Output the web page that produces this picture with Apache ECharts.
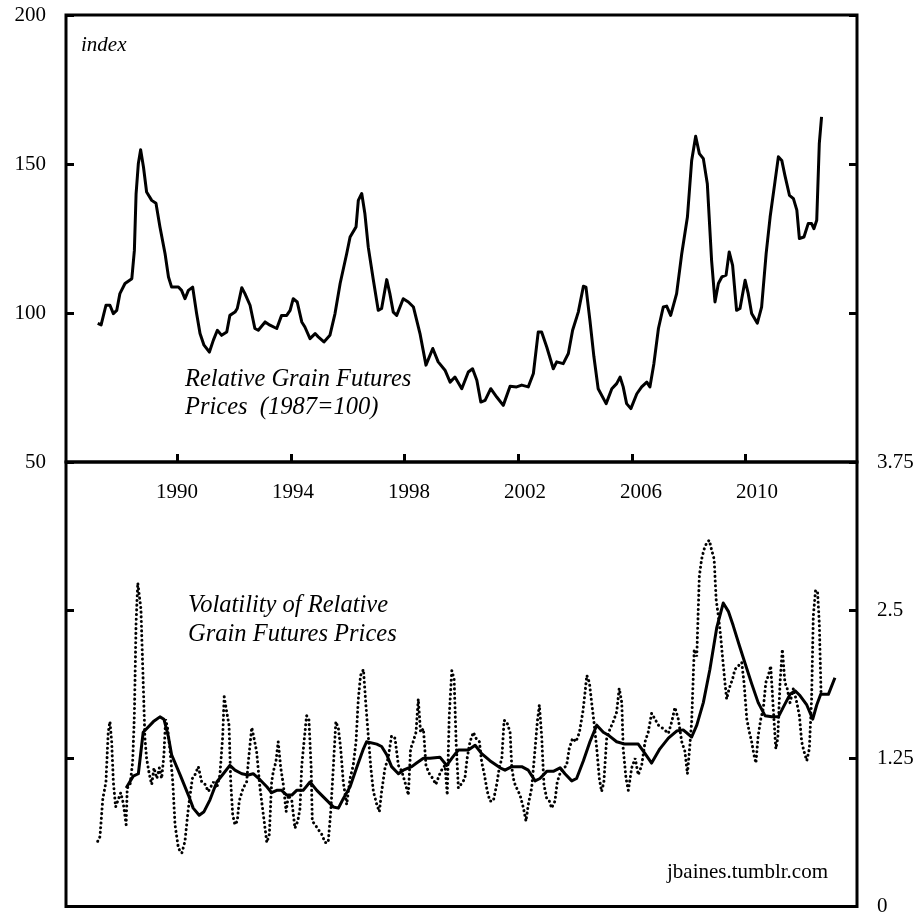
<!DOCTYPE html>
<html>
<head>
<meta charset="utf-8">
<script src="https://cdn.jsdelivr.net/npm/echarts@6/dist/echarts.min.js"></script>
<style>
  html, body { margin: 0; padding: 0; background: #fff; }
  #chart { width: 919px; height: 917px; }
</style>
</head>
<body>
<div id="chart"></div>
<script>
// relative grain futures prices, index 1987=100
const priceYears = [
  1987.20, 1987.32, 1987.49, 1987.63, 1987.75, 1987.87, 1987.98, 1988.16, 1988.40, 1988.49,
  1988.55, 1988.63, 1988.71, 1988.81, 1988.92, 1989.10, 1989.25, 1989.39, 1989.57, 1989.69,
  1989.80, 1990.04, 1990.15, 1990.27, 1990.39, 1990.54, 1990.68, 1990.80, 1990.94, 1991.13,
  1991.27, 1991.41, 1991.56, 1991.74, 1991.85, 1992.03, 1992.11, 1992.27, 1992.38, 1992.56,
  1992.73, 1992.85, 1993.09, 1993.26, 1993.50, 1993.67, 1993.85, 1993.97, 1994.08, 1994.22,
  1994.38, 1994.49, 1994.67, 1994.85, 1994.96, 1995.16, 1995.37, 1995.55, 1995.73, 1995.96,
  1996.08, 1996.29, 1996.37, 1996.49, 1996.60, 1996.72, 1996.90, 1997.07, 1997.19, 1997.37,
  1997.48, 1997.60, 1997.72, 1997.95, 1998.13, 1998.31, 1998.54, 1998.75, 1998.99, 1999.18,
  1999.42, 1999.60, 1999.77, 2000.01, 2000.24, 2000.39, 2000.54, 2000.68, 2000.83, 2001.03,
  2001.24, 2001.47, 2001.71, 2001.94, 2002.12, 2002.35, 2002.53, 2002.70, 2002.82, 2003.00,
  2003.23, 2003.35, 2003.58, 2003.76, 2003.91, 2004.11, 2004.29, 2004.38, 2004.52, 2004.66,
  2004.81, 2005.09, 2005.29, 2005.46, 2005.58, 2005.69, 2005.81, 2005.96, 2006.17, 2006.34,
  2006.52, 2006.63, 2006.77, 2006.93, 2007.10, 2007.22, 2007.36, 2007.57, 2007.75, 2007.95,
  2008.10, 2008.24, 2008.37, 2008.51, 2008.65, 2008.80, 2008.92, 2009.04, 2009.16, 2009.31,
  2009.42, 2009.54, 2009.68, 2009.80, 2009.98, 2010.09, 2010.21, 2010.41, 2010.56, 2010.72,
  2010.86, 2011.03, 2011.15, 2011.27, 2011.38, 2011.54, 2011.68, 2011.80, 2011.89, 2012.05,
  2012.20, 2012.32, 2012.40, 2012.50, 2012.59, 2012.67
];
const priceValues = [
  96.5, 96, 102.6, 102.6, 99.8, 100.9, 106.5, 109.9, 111.5, 121,
  140, 150.2, 154.8, 149, 140.6, 137.8, 136.8, 128.9, 119.9, 112.1,
  108.7, 108.7, 107.6, 104.8, 107.6, 108.7, 99.8, 93.1, 89.2, 86.9,
  90.9, 94.2, 92.5, 93.6, 99.2, 100.3, 101.5, 108.5, 106.5, 102.6,
  94.8, 94.2, 97, 95.9, 94.8, 99.2, 99.2, 100.9, 104.8, 103.7,
  97, 95.3, 91.4, 93.1, 92, 90.3, 92.5, 99.8, 109.9, 119.9,
  125.5, 128.9, 137.8, 140.1, 133.4, 122.1, 111, 100.9, 101.5, 111.2,
  106.5, 100.3, 99.2, 104.8, 103.7, 102, 93.1, 82.5, 88.1, 83.6,
  80.8, 76.8, 78.5, 74.6, 80.2, 81.3, 77.4, 70.1, 70.7, 74.6,
  71.8, 69, 75.4, 75.2, 75.8, 75.2, 79.7, 93.6, 93.6, 88.6,
  81.3, 83.6, 83, 86.4, 94.2, 100.3, 109, 108.7, 97.5, 85.3,
  74.6, 69.6, 74.6, 76.3, 78.5, 75.2, 69.6, 67.9, 72.9, 75.2,
  76.8, 75.2, 83, 94.8, 102, 102.3, 99.2, 106.5, 119.9, 132.2,
  151.2, 159.3, 153.5, 151.8, 143.4, 117.7, 103.7, 109.9, 112.1, 112.7,
  120.5, 116, 100.9, 101.5, 111, 106.5, 99.8, 96.6, 102, 119.9,
  132.2, 144, 152.4, 151.2, 146.2, 139.5, 138.4, 134.5, 125, 125.5,
  130, 130, 128.3, 131.1, 156.8, 165.8
];

// volatility of relative prices (dotted)
const volYears = [
  1987.20, 1987.28, 1987.38, 1987.49, 1987.57, 1987.63, 1987.69, 1987.75, 1987.83, 1987.92,
  1988.01, 1988.10, 1988.20, 1988.24, 1988.34, 1988.43, 1988.49, 1988.55, 1988.61, 1988.66,
  1988.72, 1988.80, 1988.86, 1988.92, 1989.02, 1989.10, 1989.18, 1989.28, 1989.37, 1989.45,
  1989.53, 1989.59, 1989.66, 1989.74, 1989.84, 1989.92, 1990.04, 1990.16, 1990.27, 1990.39,
  1990.53, 1990.62, 1990.74, 1990.86, 1990.98, 1991.09, 1991.27, 1991.39, 1991.50, 1991.60,
  1991.65, 1991.74, 1991.82, 1991.88, 1991.95, 1992.03, 1992.11, 1992.18, 1992.32, 1992.44,
  1992.50, 1992.62, 1992.70, 1992.79, 1992.91, 1993.03, 1993.15, 1993.24, 1993.32, 1993.38,
  1993.47, 1993.55, 1993.64, 1993.73, 1993.83, 1993.91, 1994.03, 1994.14, 1994.24, 1994.32,
  1994.38, 1994.46, 1994.55, 1994.63, 1994.71, 1994.75, 1994.85, 1994.96, 1995.08, 1995.20,
  1995.31, 1995.40, 1995.49, 1995.58, 1995.67, 1995.75, 1995.84, 1995.96, 1996.08, 1996.19,
  1996.29, 1996.37, 1996.45, 1996.55, 1996.63, 1996.71, 1996.81, 1996.90, 1997.02, 1997.11,
  1997.19, 1997.31, 1997.42, 1997.54, 1997.66, 1997.78, 1997.90, 1998.01, 1998.13, 1998.21,
  1998.30, 1998.40, 1998.48, 1998.56, 1998.66, 1998.75, 1998.87, 1998.99, 1999.10, 1999.22,
  1999.34, 1999.42, 1999.50, 1999.57, 1999.66, 1999.74, 1999.81, 1999.89, 2000.04, 2000.12,
  2000.20, 2000.30, 2000.42, 2000.51, 2000.63, 2000.71, 2000.80, 2000.91, 2001.00, 2001.12,
  2001.24, 2001.33, 2001.42, 2001.50, 2001.59, 2001.71, 2001.77, 2001.85, 2001.94, 2002.06,
  2002.18, 2002.27, 2002.35, 2002.47, 2002.59, 2002.67, 2002.74, 2002.82, 2002.90, 2003.00,
  2003.09, 2003.17, 2003.29, 2003.37, 2003.49, 2003.61, 2003.70, 2003.79, 2003.91, 2004.03,
  2004.15, 2004.27, 2004.35, 2004.41, 2004.50, 2004.58, 2004.66, 2004.76, 2004.85, 2004.93,
  2005.01, 2005.11, 2005.23, 2005.34, 2005.46, 2005.55, 2005.64, 2005.69, 2005.79, 2005.87,
  2005.99, 2006.11, 2006.22, 2006.34, 2006.46, 2006.57, 2006.69, 2006.81, 2006.93, 2007.10,
  2007.28, 2007.40, 2007.51, 2007.63, 2007.75, 2007.86, 2007.95, 2008.02, 2008.10, 2008.19,
  2008.28, 2008.37, 2008.45, 2008.53, 2008.63, 2008.72, 2008.80, 2008.89, 2008.96, 2009.04,
  2009.12, 2009.19, 2009.27, 2009.33, 2009.42, 2009.54, 2009.62, 2009.74, 2009.86, 2009.94,
  2010.04, 2010.13, 2010.21, 2010.29, 2010.36, 2010.44, 2010.53, 2010.62, 2010.71, 2010.80,
  2010.88, 2010.97, 2011.06, 2011.13, 2011.21, 2011.29, 2011.38, 2011.46, 2011.56, 2011.68,
  2011.80, 2011.89, 2011.97, 2012.05, 2012.15, 2012.24, 2012.32, 2012.38, 2012.46, 2012.53,
  2012.59, 2012.65
];
const volValues = [
  0.55, 0.59, 0.91, 1.05, 1.47, 1.56, 1.39, 1.05, 0.84, 0.90,
  0.96, 0.87, 0.69, 1.00, 1.03, 1.22, 1.61, 2.39, 2.73, 2.74,
  2.51, 1.89, 1.42, 1.25, 1.11, 1.03, 1.17, 1.08, 1.17, 1.08,
  1.28, 1.58, 1.50, 1.33, 1.05, 0.69, 0.49, 0.45, 0.55, 0.83,
  1.08, 1.11, 1.18, 1.05, 1.03, 0.97, 1.05, 1.00, 1.11, 1.44,
  1.77, 1.64, 1.53, 1.05, 0.77, 0.69, 0.72, 0.89, 1.00, 1.05,
  1.22, 1.51, 1.42, 1.31, 1.00, 0.77, 0.54, 0.61, 1.05, 1.14,
  1.22, 1.39, 1.17, 1.03, 0.80, 0.94, 0.89, 0.66, 0.72, 0.83,
  1.19, 1.39, 1.61, 1.58, 1.17, 0.72, 0.69, 0.65, 0.61, 0.54,
  0.54, 0.80, 1.17, 1.56, 1.50, 1.33, 1.05, 0.86, 1.08, 1.19,
  1.39, 1.75, 1.95, 2.00, 1.72, 1.47, 1.17, 0.97, 0.86, 0.80,
  0.97, 1.17, 1.25, 1.44, 1.42, 1.19, 1.14, 1.05, 0.94, 1.33,
  1.39, 1.47, 1.75, 1.47, 1.50, 1.19, 1.12, 1.08, 1.03, 1.11,
  1.17, 1.19, 0.94, 1.61, 1.99, 1.92, 1.39, 1.00, 1.05, 1.08,
  1.25, 1.39, 1.47, 1.42, 1.39, 1.22, 1.12, 0.97, 0.89, 0.89,
  1.03, 1.17, 1.25, 1.57, 1.56, 1.47, 1.17, 1.05, 1.00, 0.94,
  0.83, 0.72, 0.86, 1.00, 1.33, 1.56, 1.70, 1.44, 1.03, 0.91,
  0.89, 0.83, 0.89, 1.05, 1.14, 1.17, 1.19, 1.33, 1.42, 1.39,
  1.47, 1.64, 1.81, 1.95, 1.89, 1.72, 1.56, 1.33, 1.08, 0.97,
  1.05, 1.42, 1.50, 1.56, 1.64, 1.84, 1.72, 1.33, 1.08, 0.98,
  1.17, 1.25, 1.11, 1.19, 1.39, 1.47, 1.63, 1.58, 1.53, 1.50,
  1.46, 1.56, 1.68, 1.58, 1.39, 1.31, 1.12, 1.31, 1.56, 2.17,
  2.11, 2.79, 2.93, 3.01, 3.07, 3.09, 3.01, 2.93, 2.59, 2.45,
  2.28, 2.09, 1.89, 1.75, 1.84, 1.92, 2.00, 2.03, 2.06, 1.89,
  1.58, 1.47, 1.39, 1.28, 1.21, 1.44, 1.58, 1.67, 1.89, 1.95,
  2.03, 1.67, 1.33, 1.42, 1.89, 2.17, 1.89, 1.84, 1.72, 1.84,
  1.72, 1.61, 1.39, 1.31, 1.23, 1.33, 1.75, 2.45, 2.67, 2.65,
  2.39, 1.81
];

// smoothed volatility (solid)
const avgYears = [
  1988.20, 1988.45, 1988.63, 1988.80, 1988.92, 1989.16, 1989.39, 1989.53, 1989.68, 1989.80,
  1990.10, 1990.39, 1990.56, 1990.77, 1990.94, 1991.15, 1991.39, 1991.62, 1991.85, 1992.03,
  1992.27, 1992.50, 1992.67, 1992.91, 1993.15, 1993.32, 1993.50, 1993.67, 1993.85, 1994.03,
  1994.20, 1994.43, 1994.67, 1994.91, 1995.20, 1995.49, 1995.67, 1995.84, 1996.08, 1996.31,
  1996.55, 1996.66, 1997.02, 1997.19, 1997.37, 1997.54, 1997.78, 1997.95, 1998.25, 1998.42,
  1998.66, 1998.89, 1999.24, 1999.48, 1999.69, 1999.89, 2000.24, 2000.48, 2000.71, 2001.00,
  2001.36, 2001.53, 2001.77, 2002.12, 2002.35, 2002.59, 2002.76, 2003.00, 2003.23, 2003.47,
  2003.64, 2003.88, 2004.05, 2004.29, 2004.52, 2004.76, 2004.99, 2005.20, 2005.46, 2005.75,
  2005.99, 2006.22, 2006.46, 2006.69, 2006.98, 2007.28, 2007.57, 2007.80, 2008.10, 2008.28,
  2008.51, 2008.74, 2008.98, 2009.21, 2009.39, 2009.56, 2009.78, 2009.98, 2010.21, 2010.44,
  2010.68, 2010.92, 2011.15, 2011.32, 2011.56, 2011.74, 2011.91, 2012.15, 2012.36, 2012.50,
  2012.64, 2012.91, 2013.14
];
const avgValues = [
  1.00, 1.10, 1.12, 1.47, 1.50, 1.56, 1.60, 1.58, 1.44, 1.28,
  1.11, 0.94, 0.83, 0.77, 0.80, 0.90, 1.05, 1.12, 1.19, 1.15,
  1.12, 1.11, 1.12, 1.07, 1.01, 0.96, 0.98, 0.98, 0.94, 0.94,
  0.98, 0.98, 1.05, 0.98, 0.91, 0.84, 0.83, 0.91, 1.01, 1.17,
  1.33, 1.39, 1.37, 1.35, 1.28, 1.18, 1.12, 1.15, 1.18, 1.21,
  1.25, 1.25, 1.26, 1.19, 1.26, 1.32, 1.32, 1.36, 1.29, 1.23,
  1.17, 1.15, 1.18, 1.18, 1.15, 1.06, 1.08, 1.14, 1.14, 1.17,
  1.12, 1.06, 1.08, 1.23, 1.39, 1.53, 1.47, 1.44, 1.39, 1.37,
  1.37, 1.37, 1.29, 1.21, 1.33, 1.42, 1.48, 1.49, 1.43, 1.53,
  1.72, 2.00, 2.35, 2.56, 2.49, 2.37, 2.20, 2.05, 1.88, 1.72,
  1.61, 1.60, 1.60, 1.68, 1.79, 1.82, 1.78, 1.70, 1.58, 1.70,
  1.79, 1.79, 1.93
];

const yearTicks = [1990, 1994, 1998, 2002, 2006, 2010];

// x range of the plot box (tick scale) and of the year labels, which sit a bit to the right
const X_MIN = 1986.084, X_MAX = 2013.917;
const LABEL_MIN = 1986.172, LABEL_MAX = 2013.448;

const FONT = '"Liberation Serif", "Times New Roman", serif';
const zip = (xs, ys) => xs.map((x, i) => [x, ys[i]]);

const chart = echarts.init(document.getElementById('chart'));

const boxGrid = { left: 66, right: 62, show: true, borderColor: '#000', borderWidth: 3, containLabel: false };
const tick = { show: true, inside: true, length: 8, lineStyle: { color: '#000', width: 3 } };

chart.setOption({
  animation: false,
  backgroundColor: '#fff',
  textStyle: { fontFamily: FONT, color: '#000' },
  grid: [
    Object.assign({ top: 15, height: 447 }, boxGrid),
    Object.assign({ top: 462, height: 447 }, boxGrid),
  ],
  xAxis: [
    {
      type: 'value', gridIndex: 0, min: X_MIN, max: X_MAX, position: 'bottom',
      axisLine: { show: false }, splitLine: { show: false },
      axisTick: Object.assign({ customValues: yearTicks }, tick),
      axisLabel: { show: false },
    },
    {
      type: 'value', gridIndex: 1, min: X_MIN, max: X_MAX, show: false,
    },
    {
      type: 'value', gridIndex: 1, min: LABEL_MIN, max: LABEL_MAX, position: 'top',
      axisLine: { show: false }, splitLine: { show: false }, axisTick: { show: false },
      axisLabel: {
        inside: true, customValues: yearTicks, margin: 20,
        formatter: v => String(v),
        fontFamily: FONT, fontSize: 21, color: '#000',
      },
    },
  ],
  yAxis: [
    {
      type: 'value', gridIndex: 0, min: 50, max: 200, interval: 50, position: 'left',
      axisLine: { show: false }, splitLine: { show: false }, axisTick: tick,
      axisLabel: { margin: 20, fontFamily: FONT, fontSize: 21, color: '#000' },
    },
    {
      type: 'value', gridIndex: 0, min: 50, max: 200, interval: 50, position: 'right',
      axisLine: { show: false }, splitLine: { show: false }, axisTick: tick,
      axisLabel: { show: false },
    },
    {
      type: 'value', gridIndex: 1, min: 0, max: 3.75, interval: 1.25, position: 'right',
      axisLine: { show: false }, splitLine: { show: false }, axisTick: tick,
      axisLabel: { margin: 20, fontFamily: FONT, fontSize: 21, color: '#000' },
    },
    {
      type: 'value', gridIndex: 1, min: 0, max: 3.75, interval: 1.25, position: 'left',
      axisLine: { show: false }, splitLine: { show: false }, axisTick: tick,
      axisLabel: { show: false },
    },
  ],
  series: [
    {
      type: 'line', xAxisIndex: 0, yAxisIndex: 0, data: zip(priceYears, priceValues),
      showSymbol: false, lineStyle: { color: '#000', width: 3, join: 'round' },
    },
    {
      type: 'line', xAxisIndex: 1, yAxisIndex: 2, data: zip(volYears, volValues),
      showSymbol: false,
      lineStyle: { color: '#000', width: 3, type: [0.1, 4.6], cap: 'round' },
    },
    {
      type: 'line', xAxisIndex: 1, yAxisIndex: 2, data: zip(avgYears, avgValues),
      showSymbol: false, lineStyle: { color: '#000', width: 3, join: 'round' },
    },
  ],
  graphic: [
    {
      type: 'text', left: 81, top: 35,
      style: { text: 'index', font: 'italic 21px ' + FONT, fill: '#000' },
    },
    {
      type: 'text', left: 185, top: 366,
      style: { text: 'Relative Grain Futures\nPrices  (1987=100)', font: 'italic 24.5px ' + FONT, lineHeight: 28, fill: '#000' },
    },
    {
      type: 'text', left: 188, top: 591,
      style: { text: 'Volatility of Relative\nGrain Futures Prices', font: 'italic 24.5px ' + FONT, lineHeight: 29, fill: '#000' },
    },
    {
      type: 'text', left: 667, top: 862,
      style: { text: 'jbaines.tumblr.com', font: '21px ' + FONT, fill: '#000' },
    },
  ],
});
</script>
</body>
</html>
